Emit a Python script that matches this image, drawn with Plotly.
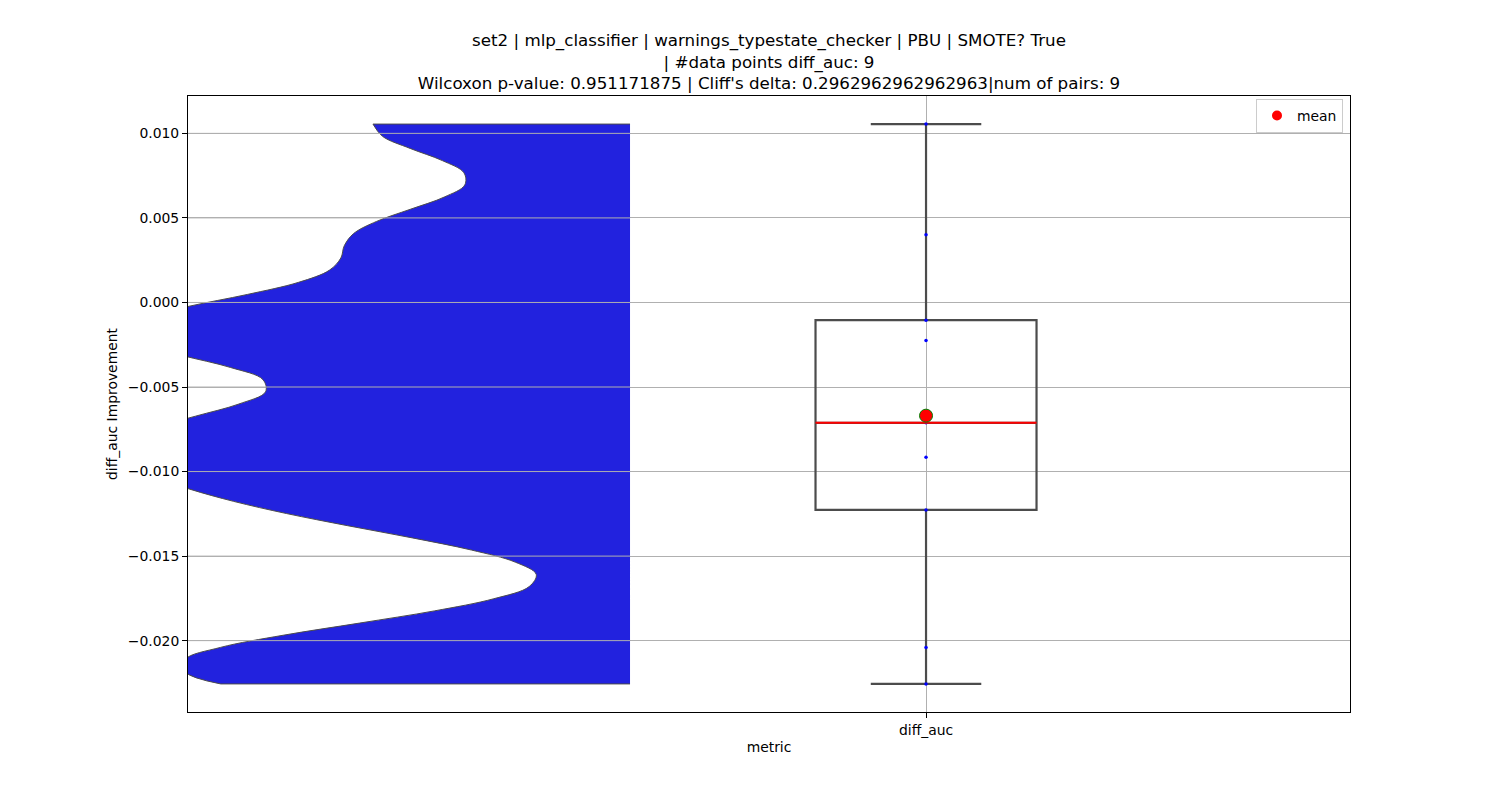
import numpy as np
import plotly.graph_objects as go

# ---- data ----
VALUES = [0.01055, 0.0040, -0.00105, -0.00225, -0.00712, -0.00915, -0.01227, -0.0204, -0.02256]
CATEGORY = "diff_auc"
Y_TICKS = [-0.020, -0.015, -0.010, -0.005, 0.000, 0.005, 0.010]
TITLE_LINES = [
    "set2 | mlp_classifier | warnings_typestate_checker | PBU | SMOTE? True",
    "| #data points diff_auc: 9",
    "Wilcoxon p-value: 0.951171875 | Cliff's delta: 0.2962962962962963|num of pairs: 9",
]
Y_LABEL = "diff_auc Improvement"
X_LABEL = "metric"
LEGEND_LABEL = "mean"

# ---- layout / style constants ----
BOX_POS = 0.0
BOX_WIDTH = 0.3
VIOLIN_POS = -0.4018
VIOLIN_WIDTH = 1.393
X_RANGE = [-1.0018, 0.5755]
Y_RANGE = [-0.02422, 0.01221]
BW_FACTOR = 0.2

FONT = "DejaVu Sans"
GRID = "#b0b0b0"
EDGE = "#4c4c4c"
VIOLIN_FILL = "#2222DE"
FS = 13.9

vals = np.array(VALUES)
bandwidth = BW_FACTOR * vals.std(ddof=1)

fig = go.Figure()

fig.add_trace(go.Violin(
    y=VALUES, x0=VIOLIN_POS, side="negative", bandwidth=bandwidth,
    spanmode="hard", points=False, width=VIOLIN_WIDTH, scalemode="width",
    fillcolor=VIOLIN_FILL, line=dict(color=EDGE, width=1), opacity=1,
    box_visible=False, meanline_visible=False, showlegend=False, hoverinfo="skip",
))

fig.add_trace(go.Box(
    y=VALUES, x0=BOX_POS, width=BOX_WIDTH, whiskerwidth=0.5,
    quartilemethod="inclusive", boxpoints="all", jitter=0, pointpos=0,
    fillcolor="rgba(0,0,0,0)", line=dict(color=EDGE, width=2.2),
    marker=dict(color="blue", size=3.5), showlegend=False,
))

med = float(np.median(vals))
fig.add_trace(go.Scatter(
    x=[BOX_POS - BOX_WIDTH / 2, BOX_POS + BOX_WIDTH / 2], y=[med, med],
    mode="lines", line=dict(color="red", width=2), showlegend=False,
))

fig.add_trace(go.Scatter(
    x=[BOX_POS], y=[float(vals.mean())], mode="markers",
    marker=dict(color="red", size=13, line=dict(color="green", width=1)),
    showlegend=False,
))

fig.add_trace(go.Scatter(
    x=[None], y=[None], mode="markers", name=LEGEND_LABEL,
    marker=dict(color="red", size=10), showlegend=True,
))

# horizontal grid lines drawn above the violin (as in the reference)
for t in Y_TICKS:
    fig.add_shape(type="line", xref="x", yref="y", x0=X_RANGE[0], x1=VIOLIN_POS,
                  y0=t, y1=t, line=dict(color=GRID, width=1), layer="above")

fig.update_layout(
    width=1500, height=800,
    margin=dict(l=188, r=150, t=96, b=88, autoexpand=False),
    paper_bgcolor="white", plot_bgcolor="white",
    font=dict(family=FONT, size=FS, color="black"),
    title=dict(text="<br>".join(TITLE_LINES), x=0.5, xref="paper", xanchor="center",
               y=1, yref="paper", yanchor="bottom", pad=dict(b=50),
               font=dict(family=FONT, size=16.7, color="black")),
    legend=dict(x=1 - 7 / 1162, y=1 - 3 / 616, xanchor="right", yanchor="top",
                bgcolor="white", bordercolor="#cccccc", borderwidth=1,
                font=dict(family=FONT, size=FS)),
    showlegend=True,
)

fig.update_xaxes(
    range=X_RANGE, tickvals=[BOX_POS], ticktext=[CATEGORY],
    showgrid=True, gridcolor=GRID, gridwidth=1, zeroline=False,
    showline=True, linecolor="black", linewidth=1, mirror=True,
    ticks="outside", ticklen=5, tickcolor="black", tickfont=dict(size=FS),
    title=dict(text=X_LABEL, standoff=5, font=dict(family=FONT, size=FS)),
    automargin=False,
)
fig.update_yaxes(
    range=Y_RANGE, tickvals=Y_TICKS, tickformat=".3f",
    showgrid=True, gridcolor=GRID, gridwidth=1, zeroline=False,
    showline=True, linecolor="black", linewidth=1, mirror=True,
    ticks="outside", ticklen=5, tickcolor="black", tickfont=dict(size=FS),
    title=dict(text=Y_LABEL, standoff=6, font=dict(family=FONT, size=FS)),
    automargin=False,
)

fig.write_html("out.html")
